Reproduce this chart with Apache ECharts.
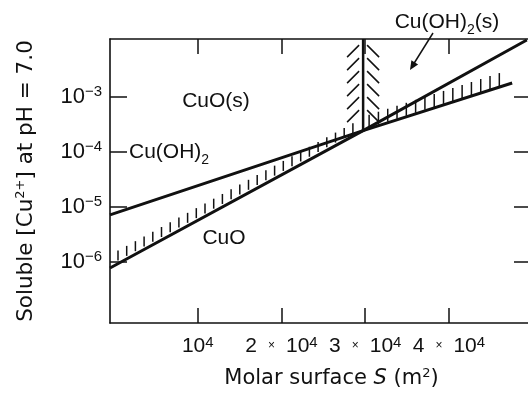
<!DOCTYPE html>
<html>
<head>
<meta charset="utf-8">
<script src="https://cdn.jsdelivr.net/npm/echarts@6/dist/echarts.min.js"></script>
<style>
  html, body { margin: 0; padding: 0; background: #fff; }
  #main { width: 528px; height: 394px; }
</style>
</head>
<body>
<div id="main"></div>
<script>
// molar surface S (m2) and soluble Cu2+ (mol/L)
const cuohS = [-480, 29750, 47550];
const cuohC = [7.2e-6, 2.45e-4, 1.8e-3];
const cuoS = [-480, 29750, 49300];
const cuoC = [7.8e-7, 2.45e-4, 1.09e-2];
const sBoundary = 29750;          // Cu(OH)2(s) / CuO(s) border
const cBoundaryTop = 1.13e-2;     // border runs up to the frame

const xTicks = [10000, 20000, 30000, 40000];
const xTickMult = [1, 2, 3, 4];
const yTickExp = [-6, -5, -4, -3];

const lg = Math.log10;
const pts = (s, c) => s.map((v, i) => [v, lg(c[i])]);

const ink = '#111';
const font = 'Liberation Sans, Arial, sans-serif';
const wide = 'DejaVu Sans, sans-serif';

// hatch groups: CuO line left of border, Cu(OH)2 line right of border, border line
const hatchData = [
  [cuoS[0], lg(cuoC[0]), cuoS[1], lg(cuoC[1])],
  [cuohS[1], lg(cuohC[1]), cuohS[2], lg(cuohC[2])],
  [sBoundary, lg(cuoC[1]), sBoundary, lg(cBoundaryTop)]
];
const hatchStyles = [
  {kind: 'ticks', start: 8, end: 8, step: 8.7, gap: 3, len: 10},
  {kind: 'ticks', start: 6, end: 4, step: 9.3, gap: 1, len: 13},
  {kind: 'fishbone', start: 6, endLeft: 8, endRight: 20, step: 13, gap: 4, dx: 12, dy: 12}
];

function renderHatch(params, api) {
  const a = api.coord([api.value(0), api.value(1)]);
  const b = api.coord([api.value(2), api.value(3)]);
  const st = hatchStyles[params.dataIndex];
  const style = {stroke: ink, lineWidth: 1.5};
  const children = [];
  if (st.kind === 'ticks') {
    const w = b[0] - a[0];
    for (let x = a[0] + st.start; x <= b[0] - st.end; x += st.step) {
      const y = a[1] + (x - a[0]) / w * (b[1] - a[1]);
      children.push({type: 'line', shape: {x1: x, y1: y - st.gap, x2: x, y2: y - st.gap - st.len}, style});
    }
  } else {
    for (let y = b[1] + st.start; y <= a[1] - st.endLeft; y += st.step) {
      children.push({type: 'line', shape: {x1: a[0] - st.gap, y1: y, x2: a[0] - st.gap - st.dx, y2: y + st.dy}, style});
      if (y <= a[1] - st.endRight) {
        children.push({type: 'line', shape: {x1: a[0] + st.gap, y1: y, x2: a[0] + st.gap + st.dx, y2: y + st.dy}, style});
      }
    }
  }
  return {type: 'group', children};
}

const chart = echarts.init(document.getElementById('main'));

const xBase = {
  type: 'value',
  min: -480,
  max: 49800,
  splitLine: {show: false},
  axisLine: {show: true, onZero: false, lineStyle: {color: ink, width: 1.6}},
  axisTick: {show: true, inside: true, length: 15, customValues: xTicks, lineStyle: {color: ink, width: 1.5}}
};
const yBase = {
  type: 'value',
  min: -7.109,
  max: -1.945,
  splitLine: {show: false},
  axisLine: {show: true, onZero: false, lineStyle: {color: ink, width: 1.6}},
  axisTick: {show: true, inside: true, length: 17, customValues: yTickExp, lineStyle: {color: ink, width: 1.5}}
};

const option = {
  animation: false,
  backgroundColor: '#fff',
  textStyle: {fontFamily: font, color: ink},
  grid: {left: 110, top: 39, bottom: 71, width: 421, containLabel: false, outerBoundsMode: 'none'},
  xAxis: [
    Object.assign({}, xBase, {
      position: 'bottom',
      name: 'Molar surface {i|S} (m{s|2})',
      nameLocation: 'middle',
      nameGap: 44,
      nameTextStyle: {
        fontFamily: wide, fontSize: 21, color: ink, padding: [0, 0, 0, 22],
        rich: {
          i: {fontFamily: wide, fontSize: 21, fontStyle: 'italic', color: ink},
          s: {fontFamily: wide, fontSize: 13, color: ink, verticalAlign: 'top', lineHeight: 24}
        }
      },
      axisLabel: {
        show: true, margin: 12, customValues: xTicks,
        formatter: v => {
          const m = xTickMult[xTicks.indexOf(v)];
          return m === 1 ? '{n|10}{s|4}' : '{n|' + m + '}{x|×}{n|10}{s|4}';
        },
        rich: {
          n: {fontFamily: font, fontSize: 21, color: ink, lineHeight: 22},
          x: {fontFamily: font, fontSize: 12, color: ink, lineHeight: 22, padding: [0, 11, 0, 11]},
          s: {fontFamily: font, fontSize: 15, color: ink, verticalAlign: 'top', lineHeight: 22}
        }
      }
    }),
    Object.assign({}, xBase, {position: 'top', axisLabel: {show: false}})
  ],
  yAxis: [
    Object.assign({}, yBase, {
      position: 'left',
      name: 'Soluble [Cu{s|2+}] at pH = 7.0',
      nameLocation: 'middle',
      nameRotate: 90,
      nameGap: 72,
      nameTextStyle: {
        fontFamily: wide, fontSize: 21.5, color: ink,
        rich: {
          s: {fontFamily: wide, fontSize: 13, color: ink, verticalAlign: 'top', lineHeight: 24}
        }
      },
      axisLabel: {
        show: true, margin: 8, customValues: yTickExp,
        formatter: v => '{n|10}{s|−' + Math.abs(v) + '}',
        rich: {
          n: {fontFamily: font, fontSize: 22, color: ink, lineHeight: 26},
          s: {fontFamily: font, fontSize: 15, color: ink, verticalAlign: 'top', lineHeight: 26}
        }
      }
    }),
    Object.assign({}, yBase, {position: 'right', axisLabel: {show: false}})
  ],
  series: [
    {
      name: 'Cu(OH)2', type: 'line', data: pts(cuohS, cuohC),
      symbol: 'none', lineStyle: {color: ink, width: 3}
    },
    {
      name: 'CuO', type: 'line', data: pts(cuoS, cuoC),
      symbol: 'none', lineStyle: {color: ink, width: 3}
    },
    {
      name: 'border', type: 'line',
      data: [[sBoundary, lg(cuoC[1])], [sBoundary, lg(cBoundaryTop)]],
      symbol: 'none', lineStyle: {color: ink, width: 2.5}
    },
    {
      name: 'hatch', type: 'custom', data: hatchData,
      encode: {x: [0, 2], y: [1, 3]},
      renderItem: renderHatch, silent: true
    }
  ],
  graphic: [
    {type: 'text', x: 216, y: 101, style: {text: 'CuO(s)', font: '21px ' + font, fill: ink, align: 'center', verticalAlign: 'middle'}},
    {type: 'text', x: 129, y: 152, style: {
      text: 'Cu(OH){b|2}', font: '21px ' + font, fill: ink, align: 'left', verticalAlign: 'middle',
      rich: {b: {fontSize: 14, fontFamily: font, fill: ink, verticalAlign: 'bottom', lineHeight: 30}}
    }},
    {type: 'text', x: 224, y: 238, style: {text: 'CuO', font: '21px ' + font, fill: ink, align: 'center', verticalAlign: 'middle'}},
    {type: 'text', x: 447, y: 22, style: {
      text: 'Cu(OH){b|2}(s)', font: '21px ' + font, fill: ink, align: 'center', verticalAlign: 'middle',
      rich: {b: {fontSize: 14, fontFamily: font, fill: ink, verticalAlign: 'bottom', lineHeight: 30}}
    }},
    {type: 'line', shape: {x1: 433, y1: 33, x2: 413, y2: 65}, style: {stroke: ink, lineWidth: 1.5}},
    {type: 'polygon', shape: {points: [[410, 70], [418.1, 64.5], [411.4, 60.2]]}, style: {fill: ink}}
  ]
};

chart.setOption(option);
</script>
</body>
</html>
